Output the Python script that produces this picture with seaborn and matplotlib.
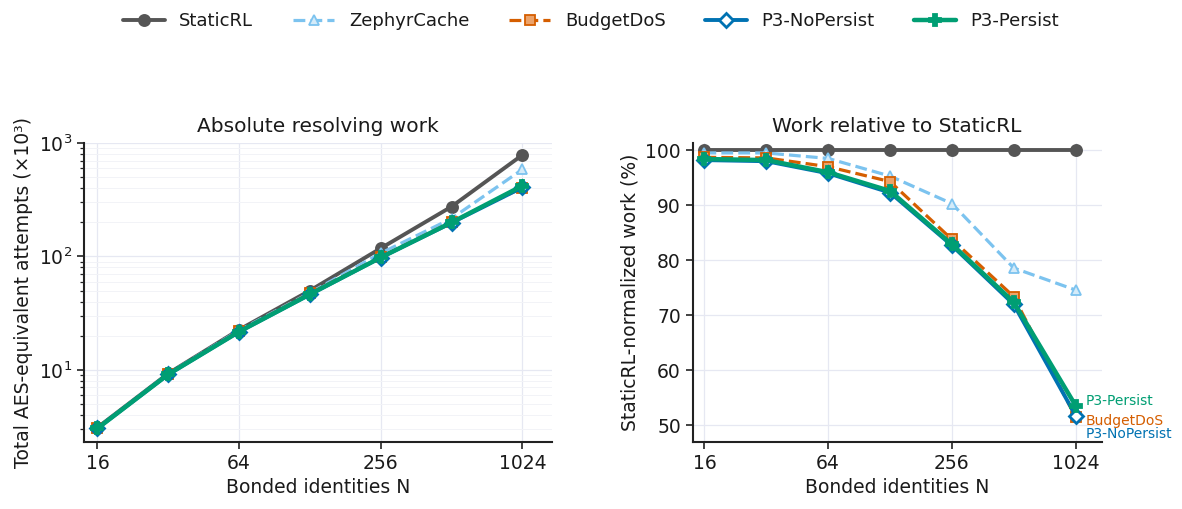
import pandas as pd
import matplotlib
matplotlib.use("Agg")
import matplotlib.pyplot as plt
import matplotlib.ticker as mticker
import seaborn as sns

# data
n_ids = [16, 32, 64, 128, 256, 512, 1024]
methods = ['StaticRL', 'ZephyrCache', 'BudgetDoS', 'P3-NoPersist', 'P3-Persist']

# absolute work (x10^3 AES-equivalent attempts)
abs_static = [3.1, 9.3, 22.6, 50.0, 118.0, 275.0, 785.0]
abs_zephyr = [3.08, 9.25, 22.3, 47.8, 106.8, 216.0, 585.0]
abs_budget = [3.06, 9.17, 21.9, 47.2, 98.9, 201.6, 404.0]
abs_nopersist = [3.05, 9.12, 21.7, 46.2, 97.7, 198.0, 406.0]
abs_persist = [3.05, 9.14, 21.7, 46.4, 97.9, 199.4, 420.0]

# relative to StaticRL (%)
rel_static = [100, 100, 100, 100, 100, 100, 100]
rel_zephyr = [99.5, 99.5, 98.5, 95.3, 90.3, 78.6, 74.6]
rel_budget = [98.7, 98.6, 97.0, 94.3, 83.8, 73.4, 51.5]
rel_nopersist = [98.2, 98.0, 95.8, 92.3, 82.7, 72.0, 51.8]
rel_persist = [98.4, 98.2, 96.0, 92.6, 82.9, 72.4, 53.6]

abs_vals = [abs_static, abs_zephyr, abs_budget, abs_nopersist, abs_persist]
rel_vals = [rel_static, rel_zephyr, rel_budget, rel_nopersist, rel_persist]

styles = {
    'StaticRL': dict(color='#555555', ls='-', marker='o', mfc='#555555', lw=2.8, ms=8),
    'ZephyrCache': dict(color='#7cc3ef', ls='--', marker='^', mfc='#d4ebf9', lw=2.3, ms=7.5),
    'BudgetDoS': dict(color='#d55e00', ls='--', marker='s', mfc='#eca36a', lw=2.3, ms=7.5),
    'P3-NoPersist': dict(color='#0072b2', ls='-', marker='D', mfc='white', lw=2.8, ms=7.5, mew=2),
    'P3-Persist': dict(color='#009e73', ls='-', marker='P', mfc='#009e73', lw=3.2, ms=9),
}

rows = []
for m, av, rv in zip(methods, abs_vals, rel_vals):
    for n, a, r in zip(n_ids, av, rv):
        rows.append({'N': n, 'method': m, 'abs': a, 'rel': r})
df = pd.DataFrame(rows)

sns.set_theme(style="whitegrid")
plt.rcParams['font.family'] = ['DejaVu Sans']
plt.rcParams['text.color'] = '#1a1a1a'
plt.rcParams['axes.labelcolor'] = '#1a1a1a'
plt.rcParams['xtick.color'] = '#1a1a1a'
plt.rcParams['ytick.color'] = '#1a1a1a'

fig = plt.figure(figsize=(11.82, 5.09), dpi=100)
ax1 = fig.add_axes([0.0711, 0.1316, 0.396, 0.5874])
ax2 = fig.add_axes([0.586, 0.1316, 0.346, 0.5874])

for ax, col in [(ax1, 'abs'), (ax2, 'rel')]:
    for m in methods:
        st = styles[m]
        sub = df[df['method'] == m]
        sns.lineplot(data=sub, x='N', y=col, ax=ax, color=st['color'],
                     linestyle=st['ls'], marker=st['marker'], markerfacecolor=st['mfc'],
                     markeredgecolor=st['color'], markeredgewidth=st.get('mew', 1.3),
                     linewidth=st['lw'], markersize=st['ms'], label=m, legend=False)

for ax in (ax1, ax2):
    ax.set_xscale('log', base=2)
    ax.set_xlim(2 ** 3.81, 2 ** 10.42)
    ax.set_xticks([16, 64, 256, 1024])
    ax.xaxis.set_major_formatter(mticker.ScalarFormatter())
    ax.xaxis.set_minor_locator(mticker.NullLocator())
    ax.set_xlabel('Bonded identities N', fontsize=13.5)
    ax.tick_params(axis='both', labelsize=13.5, length=5, width=1.2, color='#222222',
                   direction='out', bottom=True, left=True)
    for s in ['top', 'right']:
        ax.spines[s].set_visible(False)
    for s in ['left', 'bottom']:
        ax.spines[s].set_color('#222222')
        ax.spines[s].set_linewidth(1.5)
    ax.set_facecolor('white')
    ax.grid(True, which='major', color='#e6e8f2', linewidth=0.9)

ax1.set_yscale('log')
ax1.set_ylim(2.31, 1000)
ax1.grid(True, which='minor', axis='y', color='#f2f3f7', linewidth=0.7)
ax1.tick_params(axis='y', which='minor', length=3, width=0.9, color='#222222', left=True)
ax1.set_ylabel('Total AES-equivalent attempts (×10³)', fontsize=13.5)
ax1.set_title('Absolute resolving work', fontsize=14.5, pad=8)

ax2.set_ylim(47, 101.3)
ax2.set_yticks([50, 60, 70, 80, 90, 100])
ax2.set_ylabel('StaticRL-normalized work (%)', fontsize=13.5)
ax2.set_title('Work relative to StaticRL', fontsize=14.5, pad=8)

# end labels on the relative panel
ax2.text(1150, 54.5, 'P3-Persist', color='#009e73', fontsize=10, va='center', clip_on=False)
ax2.text(1150, 50.8, 'BudgetDoS', color='#d55e00', fontsize=10, va='center', clip_on=False)
ax2.text(1150, 48.5, 'P3-NoPersist', color='#0072b2', fontsize=10, va='center', clip_on=False)

handles, labels = ax2.get_legend_handles_labels()
fig.legend(handles, labels, loc='center', bbox_to_anchor=(0.5, 0.958), ncol=5,
           frameon=False, fontsize=13, handlelength=2.3, columnspacing=2.2)

fig.savefig('out.png', dpi=100)
